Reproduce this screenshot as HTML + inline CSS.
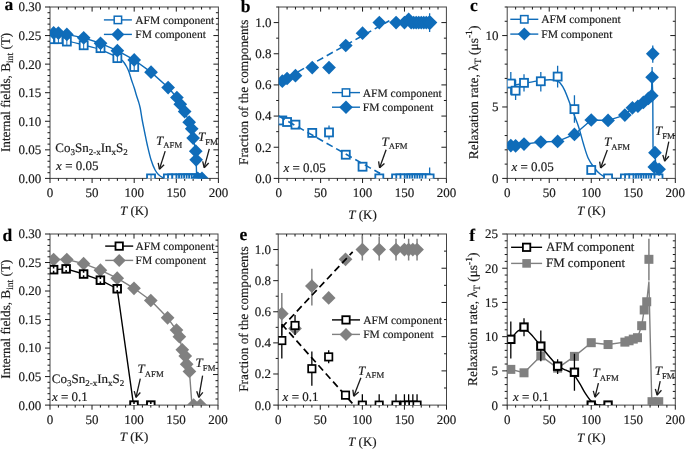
<!DOCTYPE html><html><head><meta charset="utf-8"><style>html,body{margin:0;padding:0;background:#fff;width:685px;height:449px;overflow:hidden}svg{display:block;text-rendering:geometricPrecision;filter:blur(0.35px)} text{stroke:#1a1a1a;stroke-width:0.18px}.t13{font-family:"Liberation Serif", serif;font-size:13px;fill:#1a1a1a} .tx{font-family:"Liberation Serif", serif;fill:#1a1a1a} .lt{font-family:"Liberation Serif", serif;font-size:17.5px;font-weight:bold;fill:#000}</style></head><body>
<svg width="685" height="449" viewBox="0 0 685 449">
<rect width="685" height="449" fill="#fff"/>
<rect x="50.00" y="7.00" width="168.40" height="171.40" fill="none" stroke="#444" stroke-width="1.0"/>
<path d="M50.00 178.40v4.6 M58.42 178.40v2.5 M58.42 7.00v2.5 M66.84 178.40v2.5 M66.84 7.00v2.5 M75.26 178.40v2.5 M75.26 7.00v2.5 M83.68 178.40v2.5 M83.68 7.00v2.5 M92.10 178.40v4.6 M92.10 7.00v4.6 M100.52 178.40v2.5 M100.52 7.00v2.5 M108.94 178.40v2.5 M108.94 7.00v2.5 M117.36 178.40v2.5 M117.36 7.00v2.5 M125.78 178.40v2.5 M125.78 7.00v2.5 M134.20 178.40v4.6 M134.20 7.00v4.6 M142.62 178.40v2.5 M142.62 7.00v2.5 M151.04 178.40v2.5 M151.04 7.00v2.5 M159.46 178.40v2.5 M159.46 7.00v2.5 M167.88 178.40v2.5 M167.88 7.00v2.5 M176.30 178.40v4.6 M176.30 7.00v4.6 M184.72 178.40v2.5 M184.72 7.00v2.5 M193.14 178.40v2.5 M193.14 7.00v2.5 M201.56 178.40v2.5 M201.56 7.00v2.5 M209.98 178.40v2.5 M209.98 7.00v2.5 M218.40 178.40v4.6 M50.00 178.40h-5.0 M50.00 172.69h-2.5 M218.40 172.69h-2.5 M50.00 166.97h-2.5 M218.40 166.97h-2.5 M50.00 161.26h-2.5 M218.40 161.26h-2.5 M50.00 155.55h-2.5 M218.40 155.55h-2.5 M50.00 149.83h-5.0 M218.40 149.83h-5.0 M50.00 144.12h-2.5 M218.40 144.12h-2.5 M50.00 138.41h-2.5 M218.40 138.41h-2.5 M50.00 132.69h-2.5 M218.40 132.69h-2.5 M50.00 126.98h-2.5 M218.40 126.98h-2.5 M50.00 121.27h-5.0 M218.40 121.27h-5.0 M50.00 115.55h-2.5 M218.40 115.55h-2.5 M50.00 109.84h-2.5 M218.40 109.84h-2.5 M50.00 104.13h-2.5 M218.40 104.13h-2.5 M50.00 98.41h-2.5 M218.40 98.41h-2.5 M50.00 92.70h-5.0 M218.40 92.70h-5.0 M50.00 86.99h-2.5 M218.40 86.99h-2.5 M50.00 81.27h-2.5 M218.40 81.27h-2.5 M50.00 75.56h-2.5 M218.40 75.56h-2.5 M50.00 69.85h-2.5 M218.40 69.85h-2.5 M50.00 64.13h-5.0 M218.40 64.13h-5.0 M50.00 58.42h-2.5 M218.40 58.42h-2.5 M50.00 52.71h-2.5 M218.40 52.71h-2.5 M50.00 46.99h-2.5 M218.40 46.99h-2.5 M50.00 41.28h-2.5 M218.40 41.28h-2.5 M50.00 35.57h-5.0 M218.40 35.57h-5.0 M50.00 29.85h-2.5 M218.40 29.85h-2.5 M50.00 24.14h-2.5 M218.40 24.14h-2.5 M50.00 18.43h-2.5 M218.40 18.43h-2.5 M50.00 12.71h-2.5 M218.40 12.71h-2.5 M50.00 7.00h-5.0" stroke="#1a1a1a" stroke-width="1" fill="none"/>
<text x="50.00" y="197.20" text-anchor="middle" class="t13">0</text>
<text x="92.10" y="197.20" text-anchor="middle" class="t13">50</text>
<text x="134.20" y="197.20" text-anchor="middle" class="t13">100</text>
<text x="176.30" y="197.20" text-anchor="middle" class="t13">150</text>
<text x="218.40" y="197.20" text-anchor="middle" class="t13">200</text>
<text x="41.30" y="11.40" text-anchor="end" class="t13">0.30</text>
<text x="41.30" y="39.97" text-anchor="end" class="t13">0.25</text>
<text x="41.30" y="68.53" text-anchor="end" class="t13">0.20</text>
<text x="41.30" y="97.10" text-anchor="end" class="t13">0.15</text>
<text x="41.30" y="125.67" text-anchor="end" class="t13">0.10</text>
<text x="41.30" y="154.23" text-anchor="end" class="t13">0.05</text>
<text x="41.30" y="182.80" text-anchor="end" class="t13">0.00</text>
<text x="134.20" y="214.60" text-anchor="middle" class="t13"><tspan font-style="italic">T</tspan> (K)</text>
<text transform="translate(10.20,92.40) rotate(-90)" text-anchor="middle" class="t13" font-size="13.2" style="font-size:13.2px">Internal fields, B<tspan font-size="9.6" dy="3">int</tspan><tspan dy="-3"> (T)</tspan></text>
<text x="4.50" y="10.20" class="lt">a</text>
<clipPath id="clipa"><rect x="50.00" y="7.00" width="168.40" height="171.40"/></clipPath>
<g clip-path="url(#clipa)">
<path d="M50.00 39.60 C50.70 39.58 52.80 39.50 54.20 39.50 C55.60 39.50 56.30 39.37 58.40 39.60 C60.50 39.83 62.60 40.00 66.80 40.90 C71.00 41.80 78.00 43.55 83.60 45.00 C89.20 46.45 94.78 47.57 100.40 49.60 C106.02 51.63 113.75 55.47 117.30 57.20 C120.85 58.93 120.58 59.12 121.70 60.00 C122.82 60.88 123.20 61.42 124.00 62.50 C124.80 63.58 125.67 64.92 126.50 66.50 C127.33 68.08 128.17 69.75 129.00 72.00 C129.83 74.25 130.65 77.42 131.50 80.00 C132.35 82.58 133.28 84.97 134.10 87.50 C134.92 90.03 135.70 92.95 136.40 95.20 C137.10 97.45 137.67 98.87 138.30 101.00 C138.93 103.13 139.55 104.83 140.20 108.00 C140.85 111.17 141.45 115.92 142.20 120.00 C142.95 124.08 143.85 128.33 144.70 132.50 C145.55 136.67 146.23 140.42 147.30 145.00 C148.37 149.58 149.80 155.83 151.10 160.00 C152.40 164.17 153.83 167.53 155.10 170.00 C156.37 172.47 157.50 173.58 158.70 174.80 C159.90 176.02 160.75 176.68 162.30 177.30 C163.85 177.92 167.05 178.30 168.00 178.50" fill="none" stroke="#0f6cb9" stroke-width="1.4"/>
<polyline points="50.00,32.42 53.62,32.88 58.42,33.05 66.84,34.42 83.68,37.85 100.52,43.28 117.36,50.65 134.20,59.96 151.04,72.13 168.13,87.56 176.89,97.50 180.26,104.13 184.64,111.55 189.18,122.18 191.71,128.75 193.14,138.06 195.75,151.15 196.17,159.83 196.68,178.40 202.40,178.40" fill="none" stroke="#0f6cb9" stroke-width="1.4" stroke-linejoin="round"/>
<rect x="147.04" y="174.40" width="8.00" height="8.00" fill="#fff" stroke="#0f6cb9" stroke-width="1.8"/>
<path d="M151.04 174.40V182.40" stroke="#0f6cb9" stroke-width="1"/>
<rect x="163.88" y="174.40" width="8.00" height="8.00" fill="#fff" stroke="#0f6cb9" stroke-width="1.8"/>
<path d="M167.88 174.40V182.40" stroke="#0f6cb9" stroke-width="1"/>
<rect x="168.09" y="174.40" width="8.00" height="8.00" fill="#fff" stroke="#0f6cb9" stroke-width="1.8"/>
<path d="M172.09 174.40V182.40" stroke="#0f6cb9" stroke-width="1"/>
<rect x="172.30" y="174.40" width="8.00" height="8.00" fill="#fff" stroke="#0f6cb9" stroke-width="1.8"/>
<path d="M176.30 174.40V182.40" stroke="#0f6cb9" stroke-width="1"/>
<rect x="176.51" y="174.40" width="8.00" height="8.00" fill="#fff" stroke="#0f6cb9" stroke-width="1.8"/>
<path d="M180.51 174.40V182.40" stroke="#0f6cb9" stroke-width="1"/>
<rect x="179.04" y="174.40" width="8.00" height="8.00" fill="#fff" stroke="#0f6cb9" stroke-width="1.8"/>
<path d="M183.04 174.40V182.40" stroke="#0f6cb9" stroke-width="1"/>
<rect x="181.56" y="174.40" width="8.00" height="8.00" fill="#fff" stroke="#0f6cb9" stroke-width="1.8"/>
<path d="M185.56 174.40V182.40" stroke="#0f6cb9" stroke-width="1"/>
<rect x="184.09" y="174.40" width="8.00" height="8.00" fill="#fff" stroke="#0f6cb9" stroke-width="1.8"/>
<path d="M188.09 174.40V182.40" stroke="#0f6cb9" stroke-width="1"/>
<rect x="186.61" y="174.40" width="8.00" height="8.00" fill="#fff" stroke="#0f6cb9" stroke-width="1.8"/>
<path d="M190.61 174.40V182.40" stroke="#0f6cb9" stroke-width="1"/>
<rect x="189.14" y="174.40" width="8.00" height="8.00" fill="#fff" stroke="#0f6cb9" stroke-width="1.8"/>
<path d="M193.14 174.40V182.40" stroke="#0f6cb9" stroke-width="1"/>
<rect x="191.67" y="174.40" width="8.00" height="8.00" fill="#fff" stroke="#0f6cb9" stroke-width="1.8"/>
<path d="M195.67 174.40V182.40" stroke="#0f6cb9" stroke-width="1"/>
<rect x="194.19" y="174.40" width="8.00" height="8.00" fill="#fff" stroke="#0f6cb9" stroke-width="1.8"/>
<path d="M198.19 174.40V182.40" stroke="#0f6cb9" stroke-width="1"/>
<rect x="49.62" y="35.17" width="8.00" height="8.00" fill="#fff" stroke="#0f6cb9" stroke-width="1.8"/>
<path d="M53.62 35.17V43.17" stroke="#0f6cb9" stroke-width="1"/>
<rect x="54.42" y="35.17" width="8.00" height="8.00" fill="#fff" stroke="#0f6cb9" stroke-width="1.8"/>
<path d="M58.42 35.17V43.17" stroke="#0f6cb9" stroke-width="1"/>
<rect x="62.84" y="37.57" width="8.00" height="8.00" fill="#fff" stroke="#0f6cb9" stroke-width="1.8"/>
<path d="M66.84 37.57V45.57" stroke="#0f6cb9" stroke-width="1"/>
<rect x="79.68" y="41.28" width="8.00" height="8.00" fill="#fff" stroke="#0f6cb9" stroke-width="1.8"/>
<path d="M83.68 41.28V49.28" stroke="#0f6cb9" stroke-width="1"/>
<rect x="96.52" y="44.14" width="8.00" height="8.00" fill="#fff" stroke="#0f6cb9" stroke-width="1.8"/>
<path d="M100.52 44.14V52.14" stroke="#0f6cb9" stroke-width="1"/>
<rect x="113.36" y="54.13" width="8.00" height="8.00" fill="#fff" stroke="#0f6cb9" stroke-width="1.8"/>
<path d="M117.36 54.13V62.13" stroke="#0f6cb9" stroke-width="1"/>
<rect x="130.20" y="62.99" width="8.00" height="8.00" fill="#fff" stroke="#0f6cb9" stroke-width="1.8"/>
<path d="M134.20 62.99V70.99" stroke="#0f6cb9" stroke-width="1"/>
<path d="M197.77 171.55L204.62 178.40L197.77 185.25L190.92 178.40Z" fill="#0f6cb9"/>
<path d="M201.98 171.55L208.83 178.40L201.98 185.25L195.13 178.40Z" fill="#0f6cb9"/>
<path d="M53.62 26.03L60.47 32.88L53.62 39.73L46.77 32.88Z" fill="#0f6cb9"/>
<path d="M58.42 26.20L65.27 33.05L58.42 39.90L51.57 33.05Z" fill="#0f6cb9"/>
<path d="M66.84 27.57L73.69 34.42L66.84 41.27L59.99 34.42Z" fill="#0f6cb9"/>
<path d="M83.68 31.00L90.53 37.85L83.68 44.70L76.83 37.85Z" fill="#0f6cb9"/>
<path d="M100.52 36.43L107.37 43.28L100.52 50.13L93.67 43.28Z" fill="#0f6cb9"/>
<path d="M117.36 43.80L124.21 50.65L117.36 57.50L110.51 50.65Z" fill="#0f6cb9"/>
<path d="M134.20 53.11L141.05 59.96L134.20 66.81L127.35 59.96Z" fill="#0f6cb9"/>
<path d="M151.04 65.28L157.89 72.13L151.04 78.98L144.19 72.13Z" fill="#0f6cb9"/>
<path d="M168.13 80.71L174.98 87.56L168.13 94.41L161.28 87.56Z" fill="#0f6cb9"/>
<path d="M176.89 90.65L183.74 97.50L176.89 104.35L170.04 97.50Z" fill="#0f6cb9"/>
<path d="M180.26 97.28L187.11 104.13L180.26 110.98L173.41 104.13Z" fill="#0f6cb9"/>
<path d="M184.64 104.70L191.49 111.55L184.64 118.40L177.79 111.55Z" fill="#0f6cb9"/>
<path d="M189.18 115.33L196.03 122.18L189.18 129.03L182.33 122.18Z" fill="#0f6cb9"/>
<path d="M191.71 121.90L198.56 128.75L191.71 135.60L184.86 128.75Z" fill="#0f6cb9"/>
<path d="M193.14 131.21L199.99 138.06L193.14 144.91L186.29 138.06Z" fill="#0f6cb9"/>
<path d="M195.75 144.30L202.60 151.15L195.75 158.00L188.90 151.15Z" fill="#0f6cb9"/>
<path d="M196.17 152.98L203.02 159.83L196.17 166.68L189.32 159.83Z" fill="#0f6cb9"/>
</g>
<path d="M103.90 19.90h28" stroke="#0f6cb9" stroke-width="1.4"/>
<path d="M103.90 34.40h28" stroke="#0f6cb9" stroke-width="1.4"/>
<rect x="114.20" y="16.20" width="7.40" height="7.40" fill="#fff" stroke="#0f6cb9" stroke-width="1.5"/>
<path d="M117.90 27.90L124.40 34.40L117.90 40.90L111.40 34.40Z" fill="#0f6cb9"/>
<text x="135.30" y="23.80" font-size="11.5" class="tx">AFM component</text>
<text x="135.30" y="38.30" font-size="11.5" class="tx">FM component</text>
<text x="55.30" y="151.60" class="t13">Co<tspan font-size="9" dy="3.2">3</tspan><tspan dy="-3.2">Sn</tspan><tspan font-size="9" dy="3.2">2-x</tspan><tspan dy="-3.2">In</tspan><tspan font-size="9" dy="3.2">x</tspan><tspan dy="-3.2">S</tspan><tspan font-size="9" dy="3.2">2</tspan></text>
<text x="56.10" y="169.60" class="t13"><tspan font-style="italic">x</tspan> = 0.05</text>
<text x="156.10" y="144.70" class="t13"><tspan font-style="italic" font-size="13">T</tspan><tspan font-size="8.7" dy="3.6">AFM</tspan></text>
<path d="M165.20 151.10L159.40 169.20" stroke="#1a1a1a" stroke-width="1.3" fill="none"/>
<path d="M158.17 162.82L159.40 169.20" stroke="#1a1a1a" stroke-width="1.3" fill="none"/>
<path d="M164.11 164.72L159.40 169.20" stroke="#1a1a1a" stroke-width="1.3" fill="none"/>
<text x="197.90" y="141.00" class="t13"><tspan font-style="italic" font-size="13">T</tspan><tspan font-size="8.7" dy="3.6">FM</tspan></text>
<path d="M209.30 148.90L204.20 167.70" stroke="#1a1a1a" stroke-width="1.3" fill="none"/>
<path d="M202.69 161.38L204.20 167.70" stroke="#1a1a1a" stroke-width="1.3" fill="none"/>
<path d="M208.70 163.01L204.20 167.70" stroke="#1a1a1a" stroke-width="1.3" fill="none"/>
<rect x="278.70" y="7.00" width="167.70" height="171.40" fill="none" stroke="#444" stroke-width="1.0"/>
<path d="M278.70 178.40v4.6 M287.08 178.40v2.5 M287.08 7.00v2.5 M295.47 178.40v2.5 M295.47 7.00v2.5 M303.86 178.40v2.5 M303.86 7.00v2.5 M312.24 178.40v2.5 M312.24 7.00v2.5 M320.62 178.40v4.6 M320.62 7.00v4.6 M329.01 178.40v2.5 M329.01 7.00v2.5 M337.39 178.40v2.5 M337.39 7.00v2.5 M345.78 178.40v2.5 M345.78 7.00v2.5 M354.16 178.40v2.5 M354.16 7.00v2.5 M362.55 178.40v4.6 M362.55 7.00v4.6 M370.94 178.40v2.5 M370.94 7.00v2.5 M379.32 178.40v2.5 M379.32 7.00v2.5 M387.70 178.40v2.5 M387.70 7.00v2.5 M396.09 178.40v2.5 M396.09 7.00v2.5 M404.48 178.40v4.6 M404.48 7.00v4.6 M412.86 178.40v2.5 M412.86 7.00v2.5 M421.25 178.40v2.5 M421.25 7.00v2.5 M429.63 178.40v2.5 M429.63 7.00v2.5 M438.01 178.40v2.5 M438.01 7.00v2.5 M446.40 178.40v4.6 M278.70 178.40h-5.0 M278.70 162.82h-2.5 M446.40 162.82h-2.5 M278.70 147.24h-5.0 M446.40 147.24h-5.0 M278.70 131.65h-2.5 M446.40 131.65h-2.5 M278.70 116.07h-5.0 M446.40 116.07h-5.0 M278.70 100.49h-2.5 M446.40 100.49h-2.5 M278.70 84.91h-5.0 M446.40 84.91h-5.0 M278.70 69.33h-2.5 M446.40 69.33h-2.5 M278.70 53.75h-5.0 M446.40 53.75h-5.0 M278.70 38.16h-2.5 M446.40 38.16h-2.5 M278.70 22.58h-5.0 M446.40 22.58h-5.0 M278.70 7.00h-2.5" stroke="#1a1a1a" stroke-width="1" fill="none"/>
<text x="278.70" y="197.20" text-anchor="middle" class="t13">0</text>
<text x="320.62" y="197.20" text-anchor="middle" class="t13">50</text>
<text x="362.55" y="197.20" text-anchor="middle" class="t13">100</text>
<text x="404.48" y="197.20" text-anchor="middle" class="t13">150</text>
<text x="446.40" y="197.20" text-anchor="middle" class="t13">200</text>
<text x="271.60" y="26.98" text-anchor="end" class="t13">1.0</text>
<text x="271.60" y="58.15" text-anchor="end" class="t13">0.8</text>
<text x="271.60" y="89.31" text-anchor="end" class="t13">0.6</text>
<text x="271.60" y="120.47" text-anchor="end" class="t13">0.4</text>
<text x="271.60" y="151.64" text-anchor="end" class="t13">0.2</text>
<text x="271.60" y="182.80" text-anchor="end" class="t13">0.0</text>
<text x="362.55" y="219.00" text-anchor="middle" class="t13"><tspan font-style="italic">T</tspan> (K)</text>
<text transform="translate(248.00,92.30) rotate(-90)" text-anchor="middle" class="t13" font-size="13.25" style="font-size:13.25px">Fraction of the components</text>
<text x="240.80" y="12.30" class="lt">b</text>
<clipPath id="clipb"><rect x="278.70" y="7.00" width="167.70" height="171.40"/></clipPath>
<g clip-path="url(#clipb)">
<path d="M329.01 125.42V139.45" stroke="#0f6cb9" stroke-width="1.3"/>
<path d="M379.32 172.17V178.40" stroke="#0f6cb9" stroke-width="1.3"/>
<path d="M429.63 167.49V178.40" stroke="#0f6cb9" stroke-width="1.3"/>
<path d="M429.63 13.23V31.93" stroke="#0f6cb9" stroke-width="1.3"/>
<rect x="375.32" y="174.40" width="8.00" height="8.00" fill="#fff" stroke="#0f6cb9" stroke-width="1.8"/>
<rect x="392.09" y="174.40" width="8.00" height="8.00" fill="#fff" stroke="#0f6cb9" stroke-width="1.8"/>
<rect x="396.28" y="174.40" width="8.00" height="8.00" fill="#fff" stroke="#0f6cb9" stroke-width="1.8"/>
<rect x="400.48" y="174.40" width="8.00" height="8.00" fill="#fff" stroke="#0f6cb9" stroke-width="1.8"/>
<rect x="404.67" y="174.40" width="8.00" height="8.00" fill="#fff" stroke="#0f6cb9" stroke-width="1.8"/>
<rect x="407.18" y="174.40" width="8.00" height="8.00" fill="#fff" stroke="#0f6cb9" stroke-width="1.8"/>
<rect x="409.70" y="174.40" width="8.00" height="8.00" fill="#fff" stroke="#0f6cb9" stroke-width="1.8"/>
<rect x="412.21" y="174.40" width="8.00" height="8.00" fill="#fff" stroke="#0f6cb9" stroke-width="1.8"/>
<rect x="414.73" y="174.40" width="8.00" height="8.00" fill="#fff" stroke="#0f6cb9" stroke-width="1.8"/>
<rect x="417.25" y="174.40" width="8.00" height="8.00" fill="#fff" stroke="#0f6cb9" stroke-width="1.8"/>
<rect x="419.76" y="174.40" width="8.00" height="8.00" fill="#fff" stroke="#0f6cb9" stroke-width="1.8"/>
<rect x="422.28" y="174.40" width="8.00" height="8.00" fill="#fff" stroke="#0f6cb9" stroke-width="1.8"/>
<rect x="425.63" y="174.40" width="8.00" height="8.00" fill="#fff" stroke="#0f6cb9" stroke-width="1.8"/>
<rect x="278.31" y="116.44" width="8.00" height="8.00" fill="#fff" stroke="#0f6cb9" stroke-width="1.8"/>
<rect x="283.08" y="117.99" width="8.00" height="8.00" fill="#fff" stroke="#0f6cb9" stroke-width="1.8"/>
<rect x="291.47" y="120.64" width="8.00" height="8.00" fill="#fff" stroke="#0f6cb9" stroke-width="1.8"/>
<rect x="308.24" y="128.90" width="8.00" height="8.00" fill="#fff" stroke="#0f6cb9" stroke-width="1.8"/>
<rect x="325.01" y="128.43" width="8.00" height="8.00" fill="#fff" stroke="#0f6cb9" stroke-width="1.8"/>
<rect x="341.78" y="150.72" width="8.00" height="8.00" fill="#fff" stroke="#0f6cb9" stroke-width="1.8"/>
<rect x="358.55" y="162.71" width="8.00" height="8.00" fill="#fff" stroke="#0f6cb9" stroke-width="1.8"/>
<polyline points="278.70,82.57 389.38,20.71" fill="none" stroke="#0f6cb9" stroke-width="1.6" stroke-dasharray="7 4" stroke-linejoin="round"/>
<polyline points="278.70,116.07 380.16,173.57" fill="none" stroke="#0f6cb9" stroke-width="1.6" stroke-dasharray="7 4" stroke-linejoin="round"/>
<path d="M282.31 74.32L289.16 81.17L282.31 88.02L275.46 81.17Z" fill="#0f6cb9"/>
<path d="M287.08 71.67L293.94 78.52L287.08 85.37L280.23 78.52Z" fill="#0f6cb9"/>
<path d="M295.47 68.87L302.32 75.72L295.47 82.57L288.62 75.72Z" fill="#0f6cb9"/>
<path d="M312.24 60.76L319.09 67.61L312.24 74.46L305.39 67.61Z" fill="#0f6cb9"/>
<path d="M329.01 60.76L335.86 67.61L329.01 74.46L322.16 67.61Z" fill="#0f6cb9"/>
<path d="M345.78 38.64L352.63 45.49L345.78 52.34L338.93 45.49Z" fill="#0f6cb9"/>
<path d="M362.55 26.33L369.40 33.18L362.55 40.03L355.70 33.18Z" fill="#0f6cb9"/>
<path d="M379.32 15.73L386.17 22.58L379.32 29.43L372.47 22.58Z" fill="#0f6cb9"/>
<path d="M396.09 15.73L402.94 22.58L396.09 29.43L389.24 22.58Z" fill="#0f6cb9"/>
<path d="M404.48 15.73L411.33 22.58L404.48 29.43L397.62 22.58Z" fill="#0f6cb9"/>
<path d="M408.67 12.62L415.52 19.47L408.67 26.32L401.82 19.47Z" fill="#0f6cb9"/>
<path d="M411.18 15.73L418.03 22.58L411.18 29.43L404.33 22.58Z" fill="#0f6cb9"/>
<path d="M413.70 15.73L420.55 22.58L413.70 29.43L406.85 22.58Z" fill="#0f6cb9"/>
<path d="M416.21 15.73L423.06 22.58L416.21 29.43L409.36 22.58Z" fill="#0f6cb9"/>
<path d="M418.73 15.73L425.58 22.58L418.73 29.43L411.88 22.58Z" fill="#0f6cb9"/>
<path d="M421.25 15.73L428.10 22.58L421.25 29.43L414.39 22.58Z" fill="#0f6cb9"/>
<path d="M423.76 15.73L430.61 22.58L423.76 29.43L416.91 22.58Z" fill="#0f6cb9"/>
<path d="M426.28 15.73L433.13 22.58L426.28 29.43L419.43 22.58Z" fill="#0f6cb9"/>
<path d="M428.79 15.73L435.64 22.58L428.79 29.43L421.94 22.58Z" fill="#0f6cb9"/>
<path d="M430.47 15.73L437.32 22.58L430.47 29.43L423.62 22.58Z" fill="#0f6cb9"/>
</g>
<path d="M332.00 92.60h28" stroke="#0f6cb9" stroke-width="1.4"/>
<path d="M332.00 107.20h28" stroke="#0f6cb9" stroke-width="1.4"/>
<rect x="342.30" y="88.90" width="7.40" height="7.40" fill="#fff" stroke="#0f6cb9" stroke-width="1.5"/>
<path d="M346.00 100.40L352.80 107.20L346.00 114.00L339.20 107.20Z" fill="#0f6cb9"/>
<text x="362.80" y="96.50" font-size="11.5" class="tx">AFM component</text>
<text x="362.80" y="111.10" font-size="11.5" class="tx">FM component</text>
<text x="283.40" y="171.80" class="t13"><tspan font-style="italic">x</tspan> = 0.05</text>
<text x="381.40" y="145.70" class="t13"><tspan font-style="italic" font-size="13">T</tspan><tspan font-size="8.7" dy="3.6">AFM</tspan></text>
<path d="M386.10 149.70L379.60 167.80" stroke="#1a1a1a" stroke-width="1.3" fill="none"/>
<path d="M378.60 161.38L379.60 167.80" stroke="#1a1a1a" stroke-width="1.3" fill="none"/>
<path d="M384.46 163.48L379.60 167.80" stroke="#1a1a1a" stroke-width="1.3" fill="none"/>
<rect x="507.20" y="7.00" width="168.10" height="171.40" fill="none" stroke="#444" stroke-width="1.0"/>
<path d="M507.20 178.40v4.6 M515.61 178.40v2.5 M515.61 7.00v2.5 M524.01 178.40v2.5 M524.01 7.00v2.5 M532.41 178.40v2.5 M532.41 7.00v2.5 M540.82 178.40v2.5 M540.82 7.00v2.5 M549.23 178.40v4.6 M549.23 7.00v4.6 M557.63 178.40v2.5 M557.63 7.00v2.5 M566.03 178.40v2.5 M566.03 7.00v2.5 M574.44 178.40v2.5 M574.44 7.00v2.5 M582.85 178.40v2.5 M582.85 7.00v2.5 M591.25 178.40v4.6 M591.25 7.00v4.6 M599.65 178.40v2.5 M599.65 7.00v2.5 M608.06 178.40v2.5 M608.06 7.00v2.5 M616.46 178.40v2.5 M616.46 7.00v2.5 M624.87 178.40v2.5 M624.87 7.00v2.5 M633.27 178.40v4.6 M633.27 7.00v4.6 M641.68 178.40v2.5 M641.68 7.00v2.5 M650.08 178.40v2.5 M650.08 7.00v2.5 M658.49 178.40v2.5 M658.49 7.00v2.5 M666.89 178.40v2.5 M666.89 7.00v2.5 M675.30 178.40v4.6 M507.20 178.40h-5.0 M507.20 164.12h-2.5 M675.30 164.12h-2.5 M507.20 149.83h-2.5 M675.30 149.83h-2.5 M507.20 135.55h-2.5 M675.30 135.55h-2.5 M507.20 121.27h-2.5 M675.30 121.27h-2.5 M507.20 106.98h-5.0 M675.30 106.98h-5.0 M507.20 92.70h-2.5 M675.30 92.70h-2.5 M507.20 78.42h-2.5 M675.30 78.42h-2.5 M507.20 64.13h-2.5 M675.30 64.13h-2.5 M507.20 49.85h-2.5 M675.30 49.85h-2.5 M507.20 35.57h-5.0 M675.30 35.57h-5.0 M507.20 21.28h-2.5 M675.30 21.28h-2.5 M507.20 7.00h-2.5" stroke="#1a1a1a" stroke-width="1" fill="none"/>
<text x="507.20" y="197.20" text-anchor="middle" class="t13">0</text>
<text x="549.23" y="197.20" text-anchor="middle" class="t13">50</text>
<text x="591.25" y="197.20" text-anchor="middle" class="t13">100</text>
<text x="633.27" y="197.20" text-anchor="middle" class="t13">150</text>
<text x="675.30" y="197.20" text-anchor="middle" class="t13">200</text>
<text x="498.40" y="39.97" text-anchor="end" class="t13">10</text>
<text x="498.40" y="111.38" text-anchor="end" class="t13">5</text>
<text x="498.40" y="182.80" text-anchor="end" class="t13">0</text>
<text x="591.25" y="214.60" text-anchor="middle" class="t13"><tspan font-style="italic">T</tspan> (K)</text>
<text transform="translate(477.60,92.40) rotate(-90)" text-anchor="middle" class="t13" font-size="13.45" style="font-size:13.45px">Relaxation rate, λ<tspan font-size="9.6" dy="3">T</tspan><tspan dy="-3"> (μs</tspan><tspan font-size="9.6" dy="-5.5">-1</tspan><tspan dy="5.5">)</tspan></text>
<text x="470.00" y="11.40" class="lt">c</text>
<clipPath id="clipc"><rect x="507.20" y="7.00" width="168.10" height="171.40"/></clipPath>
<g clip-path="url(#clipc)">
<path d="M507.20 86.27 C508.60 86.03 512.80 85.32 515.61 84.84 C518.41 84.37 521.21 83.92 524.01 83.42 C526.81 82.92 529.61 82.34 532.41 81.84 C535.22 81.34 537.88 80.77 540.82 80.42 C543.76 80.06 547.54 79.68 550.07 79.70 C552.59 79.73 554.27 80.01 555.95 80.56 C557.63 81.11 558.65 81.27 560.15 82.99 C561.65 84.70 563.12 86.87 564.94 90.84 C566.76 94.82 568.82 100.91 571.08 106.84 C573.33 112.77 576.43 120.29 578.47 126.41 C580.52 132.53 581.72 138.24 583.35 143.55 C584.97 148.86 586.39 154.19 588.22 158.26 C590.06 162.33 592.33 165.31 594.36 167.97 C596.39 170.64 598.41 172.71 600.41 174.26 C602.41 175.81 604.40 176.57 606.38 177.26 C608.35 177.95 603.58 178.21 612.26 178.40 C620.95 178.59 650.79 178.40 658.49 178.40" fill="none" stroke="#0f6cb9" stroke-width="1.4"/>
<polyline points="507.20,145.55 510.81,145.55 515.61,145.83 524.01,144.12 540.82,141.98 557.63,141.41 574.44,134.41 591.25,119.98 608.06,120.41 624.87,115.12 632.43,107.84 637.90,106.27 643.36,102.41 648.40,98.41 651.35,95.56 652.10,77.27 652.77,94.13 653.03,146.98 654.96,152.69 655.97,167.69 660.17,169.83" fill="none" stroke="#0f6cb9" stroke-width="1.4" stroke-linejoin="round"/>
<path d="M510.81 71.99V94.84" stroke="#0f6cb9" stroke-width="1.3"/>
<path d="M515.61 79.84V99.98" stroke="#0f6cb9" stroke-width="1.3"/>
<path d="M524.01 74.27V91.41" stroke="#0f6cb9" stroke-width="1.3"/>
<path d="M540.82 71.99V91.41" stroke="#0f6cb9" stroke-width="1.3"/>
<path d="M557.63 65.70V87.56" stroke="#0f6cb9" stroke-width="1.3"/>
<path d="M574.44 95.27V122.69" stroke="#0f6cb9" stroke-width="1.3"/>
<path d="M652.77 45.56V62.71" stroke="#0f6cb9" stroke-width="1.3"/>
<path d="M652.10 66.99V86.99" stroke="#0f6cb9" stroke-width="1.3"/>
<rect x="604.06" y="174.40" width="8.00" height="8.00" fill="#fff" stroke="#0f6cb9" stroke-width="1.8"/>
<rect x="620.87" y="174.40" width="8.00" height="8.00" fill="#fff" stroke="#0f6cb9" stroke-width="1.8"/>
<rect x="625.07" y="174.40" width="8.00" height="8.00" fill="#fff" stroke="#0f6cb9" stroke-width="1.8"/>
<rect x="629.27" y="174.40" width="8.00" height="8.00" fill="#fff" stroke="#0f6cb9" stroke-width="1.8"/>
<rect x="633.48" y="174.40" width="8.00" height="8.00" fill="#fff" stroke="#0f6cb9" stroke-width="1.8"/>
<rect x="636.00" y="174.40" width="8.00" height="8.00" fill="#fff" stroke="#0f6cb9" stroke-width="1.8"/>
<rect x="638.52" y="174.40" width="8.00" height="8.00" fill="#fff" stroke="#0f6cb9" stroke-width="1.8"/>
<rect x="641.04" y="174.40" width="8.00" height="8.00" fill="#fff" stroke="#0f6cb9" stroke-width="1.8"/>
<rect x="643.56" y="174.40" width="8.00" height="8.00" fill="#fff" stroke="#0f6cb9" stroke-width="1.8"/>
<rect x="646.08" y="174.40" width="8.00" height="8.00" fill="#fff" stroke="#0f6cb9" stroke-width="1.8"/>
<rect x="648.61" y="174.40" width="8.00" height="8.00" fill="#fff" stroke="#0f6cb9" stroke-width="1.8"/>
<rect x="651.13" y="174.40" width="8.00" height="8.00" fill="#fff" stroke="#0f6cb9" stroke-width="1.8"/>
<rect x="654.49" y="174.40" width="8.00" height="8.00" fill="#fff" stroke="#0f6cb9" stroke-width="1.8"/>
<rect x="506.81" y="79.56" width="8.00" height="8.00" fill="#fff" stroke="#0f6cb9" stroke-width="1.8"/>
<rect x="511.61" y="86.70" width="8.00" height="8.00" fill="#fff" stroke="#0f6cb9" stroke-width="1.8"/>
<rect x="520.01" y="78.84" width="8.00" height="8.00" fill="#fff" stroke="#0f6cb9" stroke-width="1.8"/>
<rect x="536.82" y="77.27" width="8.00" height="8.00" fill="#fff" stroke="#0f6cb9" stroke-width="1.8"/>
<rect x="553.63" y="72.56" width="8.00" height="8.00" fill="#fff" stroke="#0f6cb9" stroke-width="1.8"/>
<rect x="570.44" y="105.13" width="8.00" height="8.00" fill="#fff" stroke="#0f6cb9" stroke-width="1.8"/>
<rect x="587.25" y="165.97" width="8.00" height="8.00" fill="#fff" stroke="#0f6cb9" stroke-width="1.8"/>
<path d="M510.81 138.70L517.66 145.55L510.81 152.40L503.96 145.55Z" fill="#0f6cb9"/>
<path d="M515.61 138.98L522.46 145.83L515.61 152.68L508.75 145.83Z" fill="#0f6cb9"/>
<path d="M524.01 137.27L530.86 144.12L524.01 150.97L517.16 144.12Z" fill="#0f6cb9"/>
<path d="M540.82 135.13L547.67 141.98L540.82 148.83L533.97 141.98Z" fill="#0f6cb9"/>
<path d="M557.63 134.56L564.48 141.41L557.63 148.26L550.78 141.41Z" fill="#0f6cb9"/>
<path d="M574.44 127.56L581.29 134.41L574.44 141.26L567.59 134.41Z" fill="#0f6cb9"/>
<path d="M591.25 113.13L598.10 119.98L591.25 126.83L584.40 119.98Z" fill="#0f6cb9"/>
<path d="M608.06 113.56L614.91 120.41L608.06 127.26L601.21 120.41Z" fill="#0f6cb9"/>
<path d="M624.87 108.27L631.72 115.12L624.87 121.97L618.02 115.12Z" fill="#0f6cb9"/>
<path d="M632.43 100.99L639.28 107.84L632.43 114.69L625.58 107.84Z" fill="#0f6cb9"/>
<path d="M637.90 99.42L644.75 106.27L637.90 113.12L631.05 106.27Z" fill="#0f6cb9"/>
<path d="M643.36 95.56L650.21 102.41L643.36 109.26L636.51 102.41Z" fill="#0f6cb9"/>
<path d="M648.40 91.56L655.25 98.41L648.40 105.26L641.55 98.41Z" fill="#0f6cb9"/>
<path d="M651.77 88.85L658.62 95.70L651.77 102.55L644.92 95.70Z" fill="#0f6cb9"/>
<path d="M652.10 70.42L658.95 77.27L652.10 84.12L645.25 77.27Z" fill="#0f6cb9"/>
<path d="M652.77 47.00L659.62 53.85L652.77 60.70L645.92 53.85Z" fill="#0f6cb9"/>
<path d="M654.96 145.84L661.81 152.69L654.96 159.54L648.11 152.69Z" fill="#0f6cb9"/>
<path d="M654.29 160.12L661.14 166.97L654.29 173.82L647.44 166.97Z" fill="#0f6cb9"/>
<path d="M659.08 162.41L665.93 169.26L659.08 176.11L652.23 169.26Z" fill="#0f6cb9"/>
</g>
<path d="M510.30 19.30h28" stroke="#0f6cb9" stroke-width="1.4"/>
<path d="M510.30 34.10h28" stroke="#0f6cb9" stroke-width="1.4"/>
<rect x="520.60" y="15.60" width="7.40" height="7.40" fill="#fff" stroke="#0f6cb9" stroke-width="1.5"/>
<path d="M524.30 27.60L530.80 34.10L524.30 40.60L517.80 34.10Z" fill="#0f6cb9"/>
<text x="541.20" y="23.20" font-size="11.6" class="tx">AFM component</text>
<text x="541.20" y="38.00" font-size="11.6" class="tx">FM component</text>
<text x="511.50" y="171.40" class="t13"><tspan font-style="italic">x</tspan> = 0.05</text>
<text x="604.00" y="146.40" class="t13"><tspan font-style="italic" font-size="13">T</tspan><tspan font-size="8.7" dy="3.6">AFM</tspan></text>
<path d="M607.30 150.10L600.60 168.00" stroke="#1a1a1a" stroke-width="1.3" fill="none"/>
<path d="M599.68 161.57L600.60 168.00" stroke="#1a1a1a" stroke-width="1.3" fill="none"/>
<path d="M605.52 163.75L600.60 168.00" stroke="#1a1a1a" stroke-width="1.3" fill="none"/>
<text x="654.90" y="135.40" class="t13"><tspan font-style="italic" font-size="13">T</tspan><tspan font-size="8.7" dy="3.6">FM</tspan></text>
<path d="M668.80 141.70L664.70 161.20" stroke="#1a1a1a" stroke-width="1.3" fill="none"/>
<path d="M662.82 154.98L664.70 161.20" stroke="#1a1a1a" stroke-width="1.3" fill="none"/>
<path d="M668.92 156.26L664.70 161.20" stroke="#1a1a1a" stroke-width="1.3" fill="none"/>
<rect x="50.00" y="234.00" width="168.00" height="171.10" fill="none" stroke="#444" stroke-width="1.0"/>
<path d="M50.00 405.10v4.6 M58.40 405.10v2.5 M58.40 234.00v2.5 M66.80 405.10v2.5 M66.80 234.00v2.5 M75.20 405.10v2.5 M75.20 234.00v2.5 M83.60 405.10v2.5 M83.60 234.00v2.5 M92.00 405.10v4.6 M92.00 234.00v4.6 M100.40 405.10v2.5 M100.40 234.00v2.5 M108.80 405.10v2.5 M108.80 234.00v2.5 M117.20 405.10v2.5 M117.20 234.00v2.5 M125.60 405.10v2.5 M125.60 234.00v2.5 M134.00 405.10v4.6 M134.00 234.00v4.6 M142.40 405.10v2.5 M142.40 234.00v2.5 M150.80 405.10v2.5 M150.80 234.00v2.5 M159.20 405.10v2.5 M159.20 234.00v2.5 M167.60 405.10v2.5 M167.60 234.00v2.5 M176.00 405.10v4.6 M176.00 234.00v4.6 M184.40 405.10v2.5 M184.40 234.00v2.5 M192.80 405.10v2.5 M192.80 234.00v2.5 M201.20 405.10v2.5 M201.20 234.00v2.5 M209.60 405.10v2.5 M209.60 234.00v2.5 M218.00 405.10v4.6 M50.00 405.10h-5.0 M50.00 399.40h-2.5 M50.00 393.69h-2.5 M50.00 387.99h-2.5 M50.00 382.29h-2.5 M50.00 376.58h-5.0 M50.00 370.88h-2.5 M50.00 365.18h-2.5 M50.00 359.47h-2.5 M50.00 353.77h-2.5 M50.00 348.07h-5.0 M50.00 342.36h-2.5 M50.00 336.66h-2.5 M50.00 330.96h-2.5 M50.00 325.25h-2.5 M50.00 319.55h-5.0 M50.00 313.85h-2.5 M50.00 308.14h-2.5 M50.00 302.44h-2.5 M50.00 296.74h-2.5 M50.00 291.03h-5.0 M50.00 285.33h-2.5 M50.00 279.63h-2.5 M50.00 273.92h-2.5 M50.00 268.22h-2.5 M50.00 262.52h-5.0 M50.00 256.81h-2.5 M50.00 251.11h-2.5 M50.00 245.41h-2.5 M50.00 239.70h-2.5 M50.00 234.00h-5.0 M218.00 398.99h-2.5 M218.00 392.88h-2.5 M218.00 386.77h-2.5 M218.00 380.66h-2.5 M218.00 374.55h-5.0 M218.00 368.44h-2.5 M218.00 362.32h-2.5 M218.00 356.21h-2.5 M218.00 350.10h-2.5 M218.00 343.99h-5.0 M218.00 337.88h-2.5 M218.00 331.77h-2.5 M218.00 325.66h-2.5 M218.00 319.55h-2.5 M218.00 313.44h-5.0 M218.00 307.33h-2.5 M218.00 301.22h-2.5 M218.00 295.11h-2.5 M218.00 289.00h-2.5 M218.00 282.89h-5.0 M218.00 276.77h-2.5 M218.00 270.66h-2.5 M218.00 264.55h-2.5 M218.00 258.44h-2.5 M218.00 252.33h-5.0 M218.00 246.22h-2.5 M218.00 240.11h-2.5" stroke="#1a1a1a" stroke-width="1" fill="none"/>
<text x="50.00" y="423.90" text-anchor="middle" class="t13">0</text>
<text x="92.00" y="423.90" text-anchor="middle" class="t13">50</text>
<text x="134.00" y="423.90" text-anchor="middle" class="t13">100</text>
<text x="176.00" y="423.90" text-anchor="middle" class="t13">150</text>
<text x="218.00" y="423.90" text-anchor="middle" class="t13">200</text>
<text x="41.30" y="238.40" text-anchor="end" class="t13">0.30</text>
<text x="41.30" y="266.92" text-anchor="end" class="t13">0.25</text>
<text x="41.30" y="295.43" text-anchor="end" class="t13">0.20</text>
<text x="41.30" y="323.95" text-anchor="end" class="t13">0.15</text>
<text x="41.30" y="352.47" text-anchor="end" class="t13">0.10</text>
<text x="41.30" y="380.98" text-anchor="end" class="t13">0.05</text>
<text x="41.30" y="409.50" text-anchor="end" class="t13">0.00</text>
<text x="134.00" y="441.30" text-anchor="middle" class="t13"><tspan font-style="italic">T</tspan> (K)</text>
<text transform="translate(10.20,319.20) rotate(-90)" text-anchor="middle" class="t13" font-size="13.2" style="font-size:13.2px">Internal fields, B<tspan font-size="9.6" dy="3">int</tspan><tspan dy="-3"> (T)</tspan></text>
<text x="2.60" y="240.50" class="lt">d</text>
<clipPath id="clipd"><rect x="50.00" y="234.00" width="168.00" height="171.10"/></clipPath>
<g clip-path="url(#clipd)">
<polyline points="53.61,259.55 66.80,259.55 83.60,263.66 100.40,270.22 117.20,278.20 134.00,288.30 150.80,300.50 167.60,317.84 176.50,330.04 179.36,336.66 182.30,349.78 185.24,356.05 186.67,364.15 189.44,371.45 191.96,405.10 201.20,405.10" fill="none" stroke="#808080" stroke-width="1.4" stroke-linejoin="round"/>
<path d="M193.64 398.25L200.49 405.10L193.64 411.95L186.79 405.10Z" fill="#808080"/>
<path d="M200.36 398.25L207.21 405.10L200.36 411.95L193.51 405.10Z" fill="#808080"/>
<path d="M53.61 252.70L60.46 259.55L53.61 266.40L46.76 259.55Z" fill="#808080"/>
<path d="M66.80 252.70L73.65 259.55L66.80 266.40L59.95 259.55Z" fill="#808080"/>
<path d="M83.60 256.81L90.45 263.66L83.60 270.51L76.75 263.66Z" fill="#808080"/>
<path d="M100.40 263.37L107.25 270.22L100.40 277.07L93.55 270.22Z" fill="#808080"/>
<path d="M117.20 271.35L124.05 278.20L117.20 285.05L110.35 278.20Z" fill="#808080"/>
<path d="M134.00 281.45L140.85 288.30L134.00 295.15L127.15 288.30Z" fill="#808080"/>
<path d="M150.80 293.65L157.65 300.50L150.80 307.35L143.95 300.50Z" fill="#808080"/>
<path d="M167.60 310.99L174.45 317.84L167.60 324.69L160.75 317.84Z" fill="#808080"/>
<path d="M176.50 323.19L183.35 330.04L176.50 336.89L169.65 330.04Z" fill="#808080"/>
<path d="M179.36 329.81L186.21 336.66L179.36 343.51L172.51 336.66Z" fill="#808080"/>
<path d="M182.30 342.93L189.15 349.78L182.30 356.63L175.45 349.78Z" fill="#808080"/>
<path d="M185.24 349.20L192.09 356.05L185.24 362.90L178.39 356.05Z" fill="#808080"/>
<path d="M186.67 357.30L193.52 364.15L186.67 371.00L179.82 364.15Z" fill="#808080"/>
<path d="M189.44 364.60L196.29 371.45L189.44 378.30L182.59 371.45Z" fill="#808080"/>
<polyline points="53.61,269.65 66.13,268.90 83.60,274.04 100.40,280.20 117.20,288.75 133.58,405.10 150.80,405.10" fill="none" stroke="#000" stroke-width="1.4" stroke-linejoin="round"/>
<rect x="49.81" y="265.85" width="7.60" height="7.60" fill="#fff" stroke="#000" stroke-width="1.9"/>
<path d="M53.61 265.85v2.6M53.61 273.45v-2.6" stroke="#000" stroke-width="1.5"/>
<rect x="62.33" y="265.10" width="7.60" height="7.60" fill="#fff" stroke="#000" stroke-width="1.9"/>
<path d="M66.13 265.10v2.6M66.13 272.70v-2.6" stroke="#000" stroke-width="1.5"/>
<rect x="79.80" y="270.24" width="7.60" height="7.60" fill="#fff" stroke="#000" stroke-width="1.9"/>
<path d="M83.60 270.24v2.6M83.60 277.84v-2.6" stroke="#000" stroke-width="1.5"/>
<rect x="96.60" y="276.40" width="7.60" height="7.60" fill="#fff" stroke="#000" stroke-width="1.9"/>
<path d="M100.40 276.40v2.6M100.40 284.00v-2.6" stroke="#000" stroke-width="1.5"/>
<rect x="113.40" y="284.95" width="7.60" height="7.60" fill="#fff" stroke="#000" stroke-width="1.9"/>
<path d="M117.20 284.95v2.6M117.20 292.55v-2.6" stroke="#000" stroke-width="1.5"/>
<rect x="130.20" y="401.30" width="7.60" height="7.60" fill="#fff" stroke="#000" stroke-width="1.9"/>
<path d="M134.00 401.30v2.6M134.00 408.90v-2.6" stroke="#000" stroke-width="1.5"/>
<rect x="147.00" y="401.30" width="7.60" height="7.60" fill="#fff" stroke="#000" stroke-width="1.9"/>
<path d="M150.80 401.30v2.6M150.80 408.90v-2.6" stroke="#000" stroke-width="1.5"/>
</g>
<path d="M105.20 246.10h28" stroke="#000" stroke-width="1.4"/>
<path d="M105.20 260.40h28" stroke="#808080" stroke-width="1.4"/>
<rect x="115.50" y="242.40" width="7.40" height="7.40" fill="#fff" stroke="#000" stroke-width="1.8"/>
<path d="M119.20 253.90L125.70 260.40L119.20 266.90L112.70 260.40Z" fill="#808080"/>
<text x="135.50" y="250.00" font-size="11.5" class="tx">AFM component</text>
<text x="135.50" y="264.30" font-size="11.5" class="tx">FM component</text>
<text x="51.80" y="382.60" class="t13">Co<tspan font-size="9" dy="3.2">3</tspan><tspan dy="-3.2">Sn</tspan><tspan font-size="9" dy="3.2">2-x</tspan><tspan dy="-3.2">In</tspan><tspan font-size="9" dy="3.2">x</tspan><tspan dy="-3.2">S</tspan><tspan font-size="9" dy="3.2">2</tspan></text>
<text x="52.00" y="401.30" class="t13"><tspan font-style="italic">x</tspan> = 0.1</text>
<text x="137.60" y="372.90" class="t13"><tspan font-style="italic" font-size="13">T</tspan><tspan font-size="8.7" dy="3.6">AFM</tspan></text>
<path d="M140.30 378.60L136.00 397.40" stroke="#1a1a1a" stroke-width="1.3" fill="none"/>
<path d="M134.23 391.14L136.00 397.40" stroke="#1a1a1a" stroke-width="1.3" fill="none"/>
<path d="M140.31 392.53L136.00 397.40" stroke="#1a1a1a" stroke-width="1.3" fill="none"/>
<text x="195.60" y="367.20" class="t13"><tspan font-style="italic" font-size="13">T</tspan><tspan font-size="8.7" dy="3.6">FM</tspan></text>
<path d="M202.60 375.70L198.80 397.40" stroke="#1a1a1a" stroke-width="1.3" fill="none"/>
<path d="M196.71 391.24L198.80 397.40" stroke="#1a1a1a" stroke-width="1.3" fill="none"/>
<path d="M202.85 392.32L198.80 397.40" stroke="#1a1a1a" stroke-width="1.3" fill="none"/>
<rect x="278.20" y="234.00" width="168.30" height="171.10" fill="none" stroke="#444" stroke-width="1.0"/>
<path d="M278.20 405.10v4.6 M286.62 405.10v2.5 M286.62 234.00v2.5 M295.03 405.10v2.5 M295.03 234.00v2.5 M303.44 405.10v2.5 M303.44 234.00v2.5 M311.86 405.10v2.5 M311.86 234.00v2.5 M320.27 405.10v4.6 M320.27 234.00v4.6 M328.69 405.10v2.5 M328.69 234.00v2.5 M337.11 405.10v2.5 M337.11 234.00v2.5 M345.52 405.10v2.5 M345.52 234.00v2.5 M353.94 405.10v2.5 M353.94 234.00v2.5 M362.35 405.10v4.6 M362.35 234.00v4.6 M370.76 405.10v2.5 M370.76 234.00v2.5 M379.18 405.10v2.5 M379.18 234.00v2.5 M387.59 405.10v2.5 M387.59 234.00v2.5 M396.01 405.10v2.5 M396.01 234.00v2.5 M404.42 405.10v4.6 M404.42 234.00v4.6 M412.84 405.10v2.5 M412.84 234.00v2.5 M421.25 405.10v2.5 M421.25 234.00v2.5 M429.67 405.10v2.5 M429.67 234.00v2.5 M438.09 405.10v2.5 M438.09 234.00v2.5 M446.50 405.10v4.6 M278.20 405.10h-5.0 M278.20 389.55h-2.5 M278.20 373.99h-5.0 M278.20 358.44h-2.5 M278.20 342.88h-5.0 M278.20 327.33h-2.5 M278.20 311.77h-5.0 M278.20 296.22h-2.5 M278.20 280.66h-5.0 M278.20 265.11h-2.5 M278.20 249.55h-5.0 M278.20 234.00h-2.5 M446.50 387.99h-2.5 M446.50 370.88h-5.0 M446.50 353.77h-2.5 M446.50 336.66h-5.0 M446.50 319.55h-2.5 M446.50 302.44h-5.0 M446.50 285.33h-2.5 M446.50 268.22h-5.0 M446.50 251.11h-2.5" stroke="#1a1a1a" stroke-width="1" fill="none"/>
<text x="278.20" y="423.90" text-anchor="middle" class="t13">0</text>
<text x="320.27" y="423.90" text-anchor="middle" class="t13">50</text>
<text x="362.35" y="423.90" text-anchor="middle" class="t13">100</text>
<text x="404.42" y="423.90" text-anchor="middle" class="t13">150</text>
<text x="446.50" y="423.90" text-anchor="middle" class="t13">200</text>
<text x="271.10" y="253.95" text-anchor="end" class="t13">1.0</text>
<text x="271.10" y="285.06" text-anchor="end" class="t13">0.8</text>
<text x="271.10" y="316.17" text-anchor="end" class="t13">0.6</text>
<text x="271.10" y="347.28" text-anchor="end" class="t13">0.4</text>
<text x="271.10" y="378.39" text-anchor="end" class="t13">0.2</text>
<text x="271.10" y="409.50" text-anchor="end" class="t13">0.0</text>
<text x="362.35" y="446.10" text-anchor="middle" class="t13"><tspan font-style="italic">T</tspan> (K)</text>
<text transform="translate(247.80,319.10) rotate(-90)" text-anchor="middle" class="t13" font-size="13.25" style="font-size:13.25px">Fraction of the components</text>
<text x="239.40" y="240.30" class="lt">e</text>
<clipPath id="clipe"><rect x="278.20" y="234.00" width="168.30" height="171.10"/></clipPath>
<g clip-path="url(#clipe)">
<path d="M281.82 293.11V335.10" stroke="#808080" stroke-width="1.5"/>
<path d="M311.86 268.69V305.55" stroke="#808080" stroke-width="1.5"/>
<path d="M362.35 235.56V260.44" stroke="#808080" stroke-width="1.5"/>
<path d="M379.18 237.11V260.44" stroke="#808080" stroke-width="1.5"/>
<path d="M396.01 238.67V260.44" stroke="#808080" stroke-width="1.5"/>
<path d="M408.63 238.67V260.44" stroke="#808080" stroke-width="1.5"/>
<path d="M417.05 238.67V260.44" stroke="#808080" stroke-width="1.5"/>
<path d="M281.82 306.79L288.67 313.64L281.82 320.49L274.97 313.64Z" fill="#808080"/>
<path d="M295.03 321.57L301.88 328.42L295.03 335.27L288.18 328.42Z" fill="#808080"/>
<path d="M311.86 279.26L318.71 286.11L311.86 292.96L305.01 286.11Z" fill="#808080"/>
<path d="M328.69 291.08L335.54 297.93L328.69 304.78L321.84 297.93Z" fill="#808080"/>
<path d="M345.52 252.50L352.37 259.35L345.52 266.20L338.67 259.35Z" fill="#808080"/>
<path d="M362.35 242.70L369.20 249.55L362.35 256.40L355.50 249.55Z" fill="#808080"/>
<path d="M379.18 242.70L386.03 249.55L379.18 256.40L372.33 249.55Z" fill="#808080"/>
<path d="M396.01 242.70L402.86 249.55L396.01 256.40L389.16 249.55Z" fill="#808080"/>
<path d="M404.42 242.70L411.27 249.55L404.42 256.40L397.57 249.55Z" fill="#808080"/>
<path d="M408.63 242.70L415.48 249.55L408.63 256.40L401.78 249.55Z" fill="#808080"/>
<path d="M412.84 242.70L419.69 249.55L412.84 256.40L405.99 249.55Z" fill="#808080"/>
<path d="M417.05 242.70L423.90 249.55L417.05 256.40L410.20 249.55Z" fill="#808080"/>
<polyline points="281.82,327.33 352.67,251.89" fill="none" stroke="#000" stroke-width="1.7" stroke-dasharray="7 4" stroke-linejoin="round"/>
<polyline points="281.82,324.22 353.94,405.10" fill="none" stroke="#000" stroke-width="1.7" stroke-dasharray="7 4" stroke-linejoin="round"/>
<path d="M281.82 324.22V358.44" stroke="#000" stroke-width="1.3"/>
<path d="M295.03 314.88V335.10" stroke="#000" stroke-width="1.3"/>
<path d="M311.86 351.44V385.81" stroke="#000" stroke-width="1.3"/>
<path d="M328.69 350.19V363.26" stroke="#000" stroke-width="1.3"/>
<path d="M362.35 394.21V405.10" stroke="#000" stroke-width="1.3"/>
<path d="M379.18 394.21V405.10" stroke="#000" stroke-width="1.3"/>
<path d="M396.01 394.21V405.10" stroke="#000" stroke-width="1.3"/>
<path d="M404.42 394.21V405.10" stroke="#000" stroke-width="1.3"/>
<path d="M408.63 394.21V405.10" stroke="#000" stroke-width="1.3"/>
<path d="M412.84 394.21V405.10" stroke="#000" stroke-width="1.3"/>
<path d="M417.05 394.21V405.10" stroke="#000" stroke-width="1.3"/>
<rect x="358.65" y="401.40" width="7.40" height="7.40" fill="#fff" stroke="#000" stroke-width="1.7"/>
<rect x="375.48" y="401.40" width="7.40" height="7.40" fill="#fff" stroke="#000" stroke-width="1.7"/>
<rect x="392.31" y="401.40" width="7.40" height="7.40" fill="#fff" stroke="#000" stroke-width="1.7"/>
<rect x="400.72" y="401.40" width="7.40" height="7.40" fill="#fff" stroke="#000" stroke-width="1.7"/>
<rect x="404.93" y="401.40" width="7.40" height="7.40" fill="#fff" stroke="#000" stroke-width="1.7"/>
<rect x="409.14" y="401.40" width="7.40" height="7.40" fill="#fff" stroke="#000" stroke-width="1.7"/>
<rect x="413.35" y="401.40" width="7.40" height="7.40" fill="#fff" stroke="#000" stroke-width="1.7"/>
<rect x="278.12" y="336.85" width="7.40" height="7.40" fill="#fff" stroke="#000" stroke-width="1.7"/>
<rect x="291.33" y="321.76" width="7.40" height="7.40" fill="#fff" stroke="#000" stroke-width="1.7"/>
<rect x="308.16" y="365.00" width="7.40" height="7.40" fill="#fff" stroke="#000" stroke-width="1.7"/>
<rect x="324.99" y="353.18" width="7.40" height="7.40" fill="#fff" stroke="#000" stroke-width="1.7"/>
<rect x="341.82" y="391.45" width="7.40" height="7.40" fill="#fff" stroke="#000" stroke-width="1.7"/>
</g>
<path d="M332.00 319.90h28" stroke="#000" stroke-width="1.4"/>
<path d="M332.00 334.40h28" stroke="#808080" stroke-width="1.4"/>
<rect x="342.30" y="316.20" width="7.40" height="7.40" fill="#fff" stroke="#000" stroke-width="1.8"/>
<path d="M346.00 327.90L352.50 334.40L346.00 340.90L339.50 334.40Z" fill="#808080"/>
<text x="363.20" y="323.80" font-size="11.5" class="tx">AFM component</text>
<text x="363.20" y="338.30" font-size="11.5" class="tx">FM component</text>
<text x="282.60" y="400.50" class="t13"><tspan font-style="italic">x</tspan> = 0.1</text>
<text x="358.10" y="374.70" class="t13"><tspan font-style="italic" font-size="13">T</tspan><tspan font-size="8.7" dy="3.6">AFM</tspan></text>
<path d="M360.90 377.70L353.70 396.20" stroke="#1a1a1a" stroke-width="1.3" fill="none"/>
<path d="M352.86 389.75L353.70 396.20" stroke="#1a1a1a" stroke-width="1.3" fill="none"/>
<path d="M358.67 392.01L353.70 396.20" stroke="#1a1a1a" stroke-width="1.3" fill="none"/>
<rect x="507.20" y="234.00" width="168.10" height="171.10" fill="none" stroke="#444" stroke-width="1.0"/>
<path d="M507.20 405.10v4.6 M515.61 405.10v2.5 M515.61 234.00v2.5 M524.01 405.10v2.5 M524.01 234.00v2.5 M532.41 405.10v2.5 M532.41 234.00v2.5 M540.82 405.10v2.5 M540.82 234.00v2.5 M549.23 405.10v4.6 M549.23 234.00v4.6 M557.63 405.10v2.5 M557.63 234.00v2.5 M566.03 405.10v2.5 M566.03 234.00v2.5 M574.44 405.10v2.5 M574.44 234.00v2.5 M582.85 405.10v2.5 M582.85 234.00v2.5 M591.25 405.10v4.6 M591.25 234.00v4.6 M599.65 405.10v2.5 M599.65 234.00v2.5 M608.06 405.10v2.5 M608.06 234.00v2.5 M616.46 405.10v2.5 M616.46 234.00v2.5 M624.87 405.10v2.5 M624.87 234.00v2.5 M633.27 405.10v4.6 M633.27 234.00v4.6 M641.68 405.10v2.5 M641.68 234.00v2.5 M650.08 405.10v2.5 M650.08 234.00v2.5 M658.49 405.10v2.5 M658.49 234.00v2.5 M666.89 405.10v2.5 M666.89 234.00v2.5 M675.30 405.10v4.6 M507.20 405.10h-5.0 M507.20 398.26h-2.5 M675.30 398.26h-2.5 M507.20 391.41h-2.5 M675.30 391.41h-2.5 M507.20 384.57h-2.5 M675.30 384.57h-2.5 M507.20 377.72h-2.5 M675.30 377.72h-2.5 M507.20 370.88h-5.0 M675.30 370.88h-5.0 M507.20 364.04h-2.5 M675.30 364.04h-2.5 M507.20 357.19h-2.5 M675.30 357.19h-2.5 M507.20 350.35h-2.5 M675.30 350.35h-2.5 M507.20 343.50h-2.5 M675.30 343.50h-2.5 M507.20 336.66h-5.0 M675.30 336.66h-5.0 M507.20 329.82h-2.5 M675.30 329.82h-2.5 M507.20 322.97h-2.5 M675.30 322.97h-2.5 M507.20 316.13h-2.5 M675.30 316.13h-2.5 M507.20 309.28h-2.5 M675.30 309.28h-2.5 M507.20 302.44h-5.0 M675.30 302.44h-5.0 M507.20 295.60h-2.5 M675.30 295.60h-2.5 M507.20 288.75h-2.5 M675.30 288.75h-2.5 M507.20 281.91h-2.5 M675.30 281.91h-2.5 M507.20 275.06h-2.5 M675.30 275.06h-2.5 M507.20 268.22h-5.0 M675.30 268.22h-5.0 M507.20 261.38h-2.5 M675.30 261.38h-2.5 M507.20 254.53h-2.5 M675.30 254.53h-2.5 M507.20 247.69h-2.5 M675.30 247.69h-2.5 M507.20 240.84h-2.5 M675.30 240.84h-2.5 M507.20 234.00h-5.0" stroke="#1a1a1a" stroke-width="1" fill="none"/>
<text x="507.20" y="423.90" text-anchor="middle" class="t13">0</text>
<text x="549.23" y="423.90" text-anchor="middle" class="t13">50</text>
<text x="591.25" y="423.90" text-anchor="middle" class="t13">100</text>
<text x="633.27" y="423.90" text-anchor="middle" class="t13">150</text>
<text x="675.30" y="423.90" text-anchor="middle" class="t13">200</text>
<text x="498.00" y="238.40" text-anchor="end" class="t13">25</text>
<text x="498.00" y="272.62" text-anchor="end" class="t13">20</text>
<text x="498.00" y="306.84" text-anchor="end" class="t13">15</text>
<text x="498.00" y="341.06" text-anchor="end" class="t13">10</text>
<text x="498.00" y="375.28" text-anchor="end" class="t13">5</text>
<text x="498.00" y="409.50" text-anchor="end" class="t13">0</text>
<text x="591.25" y="442.10" text-anchor="middle" class="t13"><tspan font-style="italic">T</tspan> (K)</text>
<text transform="translate(477.40,319.20) rotate(-90)" text-anchor="middle" class="t13" font-size="13.45" style="font-size:13.45px">Relaxation rate, λ<tspan font-size="9.6" dy="3">T</tspan><tspan dy="-3"> (μs</tspan><tspan font-size="9.6" dy="-5.5">-1</tspan><tspan dy="5.5">)</tspan></text>
<text x="469.20" y="240.90" class="lt">f</text>
<clipPath id="clipf"><rect x="507.20" y="234.00" width="168.10" height="171.10"/></clipPath>
<g clip-path="url(#clipf)">
<polyline points="510.81,369.37 524.01,372.80 540.82,355.89 557.63,368.14 574.44,356.37 591.25,342.68 608.06,344.53 624.87,342.14 629.07,340.77 633.27,339.12 637.48,337.69 641.68,325.71 644.20,309.97 646.72,301.76 648.91,281.91 651.77,401.68 658.49,401.68" fill="none" stroke="#808080" stroke-width="1.4" stroke-linejoin="round"/>
<path d="M648.91 238.79V280.54" stroke="#808080" stroke-width="1.5"/>
<rect x="506.31" y="364.87" width="9.00" height="9.00" fill="#808080"/>
<rect x="519.51" y="368.30" width="9.00" height="9.00" fill="#808080"/>
<rect x="536.32" y="351.39" width="9.00" height="9.00" fill="#808080"/>
<rect x="553.13" y="363.64" width="9.00" height="9.00" fill="#808080"/>
<rect x="569.94" y="351.87" width="9.00" height="9.00" fill="#808080"/>
<rect x="586.75" y="338.18" width="9.00" height="9.00" fill="#808080"/>
<rect x="603.56" y="340.03" width="9.00" height="9.00" fill="#808080"/>
<rect x="620.37" y="337.64" width="9.00" height="9.00" fill="#808080"/>
<rect x="624.57" y="336.27" width="9.00" height="9.00" fill="#808080"/>
<rect x="628.77" y="334.62" width="9.00" height="9.00" fill="#808080"/>
<rect x="632.98" y="333.19" width="9.00" height="9.00" fill="#808080"/>
<rect x="637.18" y="321.21" width="9.00" height="9.00" fill="#808080"/>
<rect x="639.70" y="305.47" width="9.00" height="9.00" fill="#808080"/>
<rect x="642.22" y="297.26" width="9.00" height="9.00" fill="#808080"/>
<rect x="644.41" y="254.82" width="9.00" height="9.00" fill="#808080"/>
<rect x="647.52" y="397.18" width="9.00" height="9.00" fill="#808080"/>
<rect x="654.24" y="397.18" width="9.00" height="9.00" fill="#808080"/>
<path d="M510.56 340.42 C511.12 339.57 512.66 336.89 513.92 335.29 C515.18 333.69 516.45 331.87 518.13 330.84 C519.81 329.82 521.91 328.62 524.01 329.13 C526.11 329.64 527.93 331.09 530.73 333.92 C533.54 336.75 537.74 342.34 540.82 346.10 C543.90 349.87 546.42 353.23 549.23 356.51 C552.03 359.78 554.83 363.47 557.63 365.75 C560.43 368.03 563.51 368.88 566.03 370.20 C568.56 371.51 570.52 371.45 572.76 373.62 C575.00 375.78 577.38 379.89 579.48 383.20 C581.58 386.51 583.41 390.44 585.37 393.47 C587.33 396.49 589.43 399.51 591.25 401.34 C593.07 403.16 594.61 403.79 596.29 404.42 C597.97 405.04 599.37 404.99 601.34 405.10 C603.30 405.21 606.94 405.10 608.06 405.10" fill="none" stroke="#000" stroke-width="1.4"/>
<path d="M510.81 321.60V358.56" stroke="#000" stroke-width="1.3"/>
<path d="M524.01 318.18V336.32" stroke="#000" stroke-width="1.3"/>
<path d="M540.82 330.50V361.30" stroke="#000" stroke-width="1.3"/>
<path d="M557.63 359.25V373.96" stroke="#000" stroke-width="1.3"/>
<path d="M574.44 353.77V390.73" stroke="#000" stroke-width="1.3"/>
<rect x="587.55" y="401.40" width="7.40" height="7.40" fill="#fff" stroke="#000" stroke-width="2.0"/>
<rect x="604.36" y="401.40" width="7.40" height="7.40" fill="#fff" stroke="#000" stroke-width="2.0"/>
<rect x="507.11" y="335.63" width="7.40" height="7.40" fill="#fff" stroke="#000" stroke-width="2.0"/>
<rect x="520.31" y="323.38" width="7.40" height="7.40" fill="#fff" stroke="#000" stroke-width="2.0"/>
<rect x="537.12" y="342.40" width="7.40" height="7.40" fill="#fff" stroke="#000" stroke-width="2.0"/>
<rect x="553.93" y="362.46" width="7.40" height="7.40" fill="#fff" stroke="#000" stroke-width="2.0"/>
<rect x="570.74" y="368.55" width="7.40" height="7.40" fill="#fff" stroke="#000" stroke-width="2.0"/>
</g>
<path d="M511.10 247.30h31" stroke="#000" stroke-width="1.4"/>
<path d="M511.10 263.40h31" stroke="#808080" stroke-width="1.4"/>
<rect x="522.90" y="243.60" width="7.40" height="7.40" fill="#fff" stroke="#000" stroke-width="1.8"/>
<rect x="522.30" y="259.10" width="8.60" height="8.60" fill="#808080"/>
<text x="546.00" y="251.20" font-size="12.9" class="tx">AFM component</text>
<text x="546.00" y="267.30" font-size="12.9" class="tx">FM component</text>
<text x="513.00" y="400.50" class="t13"><tspan font-style="italic">x</tspan> = 0.1</text>
<text x="592.60" y="377.20" class="t13"><tspan font-style="italic" font-size="13">T</tspan><tspan font-size="8.7" dy="3.6">AFM</tspan></text>
<path d="M598.40 383.10L595.00 397.20" stroke="#1a1a1a" stroke-width="1.3" fill="none"/>
<path d="M593.31 390.92L595.00 397.20" stroke="#1a1a1a" stroke-width="1.3" fill="none"/>
<path d="M599.37 392.39L595.00 397.20" stroke="#1a1a1a" stroke-width="1.3" fill="none"/>
<text x="654.80" y="375.20" class="t13"><tspan font-style="italic" font-size="13">T</tspan><tspan font-size="8.7" dy="3.6">FM</tspan></text>
<path d="M660.20 381.10L657.20 395.20" stroke="#1a1a1a" stroke-width="1.3" fill="none"/>
<path d="M655.34 388.97L657.20 395.20" stroke="#1a1a1a" stroke-width="1.3" fill="none"/>
<path d="M661.44 390.27L657.20 395.20" stroke="#1a1a1a" stroke-width="1.3" fill="none"/>
</svg></body></html>
